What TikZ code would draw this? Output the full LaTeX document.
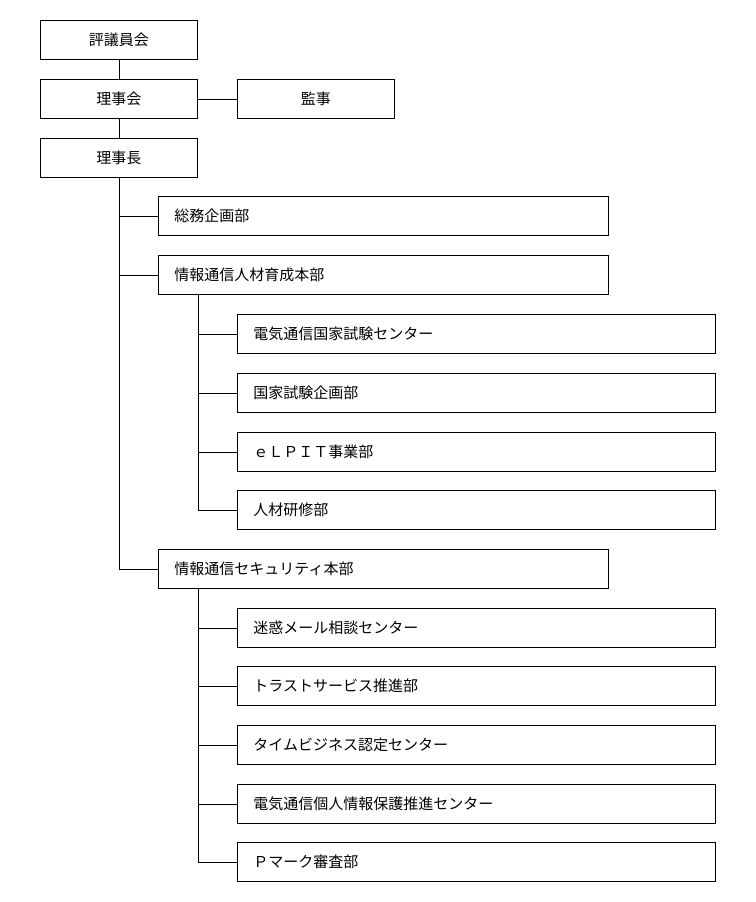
\documentclass[tikz,border=0pt]{standalone}
\usepackage{fontspec}
\setmainfont{Noto Sans CJK JP}
\usetikzlibrary{positioning}

\tikzset{
  unit/.style={draw, anchor=north west, minimum height=39pt, font=\fontsize{15pt}{17pt}\selectfont},
  topbox/.style={unit, minimum width=157pt},
  dept/.style={unit, text width=418pt, inner xsep=16pt, align=left},
  sect/.style={unit, text width=446pt, inner xsep=16pt, align=left},
}

\begin{document}
\begin{tikzpicture}[x=1pt, y=-1pt, line width=0.8pt]
\useasboundingbox (0,0) rectangle (755,902);

% top of the chart
\node (council) [topbox] at (40,20) {評議員会};
\node (board) [topbox] at (40,79) {理事会};
\node (auditor) [topbox] at (237,79) {監事};
\node (chief) [topbox] at (40,138) {理事長};

\draw (council) -- (board);
\draw (board) -- (auditor);
\draw (board) -- (chief);

% departments
\node (plan) [dept] at (158,196) {総務企画部};
\node (hr) [dept] at (158,255) {情報通信人材育成本部};
\node (sec) [dept] at (158,549) {情報通信セキュリティ本部};

\foreach \d in {plan, hr, sec}
  \draw (chief.south) |- (\d.west);

% sections under hr
\node (hr1) [sect] at (237,314) {電気通信国家試験センター};
\node (hr2) [sect] at (237,373) {国家試験企画部};
\node (hr3) [sect] at (237,432) {ｅＬＰＩＴ事業部};
\node (hr4) [sect] at (237,490) {人材研修部};

\coordinate (hrtrunk) at ([xshift=40pt]hr.south west);
\foreach \s in {hr1, hr2, hr3, hr4}
  \draw (hrtrunk) |- (\s.west);

% sections under sec
\node (sec1) [sect] at (237,608) {迷惑メール相談センター};
\node (sec2) [sect] at (237,666) {トラストサービス推進部};
\node (sec3) [sect] at (237,725) {タイムビジネス認定センター};
\node (sec4) [sect] at (237,784) {電気通信個人情報保護推進センター};
\node (sec5) [sect] at (237,842) {Ｐマーク審査部};

\coordinate (sectrunk) at ([xshift=40pt]sec.south west);
\foreach \s in {sec1, sec2, sec3, sec4, sec5}
  \draw (sectrunk) |- (\s.west);

\end{tikzpicture}
\end{document}
